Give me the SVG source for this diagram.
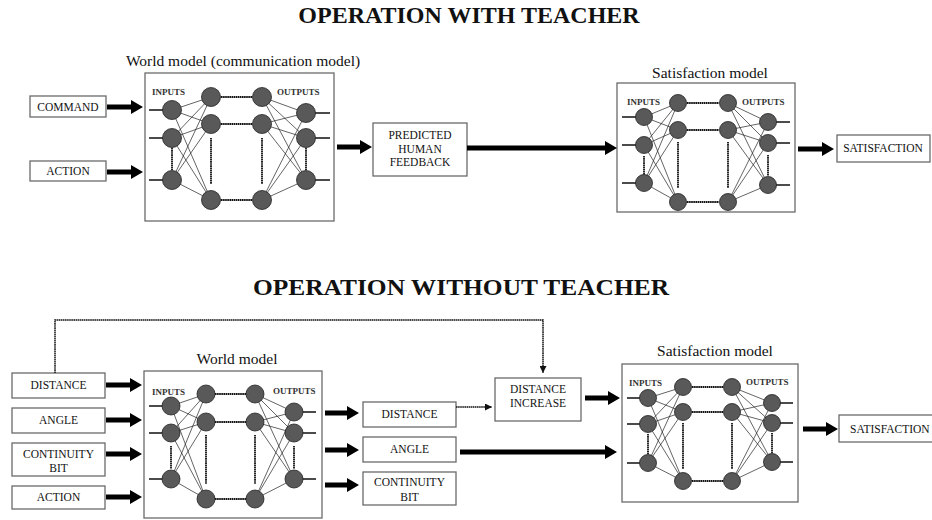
<svg xmlns="http://www.w3.org/2000/svg" width="932" height="520" viewBox="0 0 932 520">
<style>
text{font-family:"Liberation Serif","Times New Roman",serif;fill:#111}
.title{font-size:24px;font-weight:bold;text-anchor:middle}
.mt{font-size:15.5px;text-anchor:middle}
.bt{font-size:11.5px;text-anchor:middle}
.lb{font-size:9px;font-weight:bold;fill:#333}
.box{fill:#fff;stroke:#6a6a6a;stroke-width:1.3}
.node{fill:#595959;stroke:#222;stroke-width:0.8}
.conn{fill:none;stroke:#222;stroke-width:0.7}
.io{fill:none;stroke:#111;stroke-width:1.4}
.dash{fill:none;stroke:#111;stroke-width:1.8;stroke-dasharray:1.6 0.5}
.blk{fill:#000;stroke:none}
.dot{fill:none;stroke:#111;stroke-width:1.5;stroke-dasharray:1.6 0.5}
</style>
<defs>
<marker id="ah" viewBox="0 0 8 8" refX="8" refY="4" markerWidth="7" markerHeight="7" markerUnits="userSpaceOnUse" orient="auto"><path d="M0,0L8,4L0,8z" fill="#111"/></marker>
</defs>

<text class="title" x="469" y="23">OPERATION WITH TEACHER</text>
<text class="title" x="461" y="295" textLength="416" lengthAdjust="spacingAndGlyphs">OPERATION WITHOUT TEACHER</text>

<!-- TOP SECTION -->
<g id="command"><rect class="box" x="30" y="96" width="76" height="21"/><text class="bt" x="68" y="110.5">COMMAND</text></g>
<g id="action-top"><rect class="box" x="30" y="161" width="76" height="20"/><text class="bt" x="68" y="175">ACTION</text></g>

<g id="world-model-top">
<text class="mt" x="243" y="66">World model (communication model)</text>
<rect class="box" x="145" y="73" width="189" height="148"/>
<text class="lb" x="152" y="95">INPUTS</text>
<text class="lb" x="277" y="95">OUTPUTS</text>
<path class="conn" d="M172 110L211 97M172 110L211 124M172 110L211 200M172 138L211 97M172 138L211 124M172 138L211 200M172 180L211 97M172 180L211 124M172 180L211 200M262 97L306 113M262 97L306 138M262 97L306 180M262 124L306 113M262 124L306 138M262 124L306 180M262 200L306 113M262 200L306 138M262 200L306 180"/>
<path class="io" d="M149 110H172M149 138H172M149 180H172M306 113H330M306 138H330M306 180H330"/>
<path class="dash" d="M221 97H252M221 124H252M221 200H252M211 138V184M262 138V184M172 148V170M306 148V170"/>
<circle class="node" cx="172" cy="110" r="9.5"/><circle class="node" cx="172" cy="138" r="9.5"/><circle class="node" cx="172" cy="180" r="9.5"/>
<circle class="node" cx="211" cy="97" r="9.5"/><circle class="node" cx="211" cy="124" r="9.5"/><circle class="node" cx="211" cy="200" r="9.5"/>
<circle class="node" cx="262" cy="97" r="9.5"/><circle class="node" cx="262" cy="124" r="9.5"/><circle class="node" cx="262" cy="200" r="9.5"/>
<circle class="node" cx="306" cy="113" r="9.5"/><circle class="node" cx="306" cy="138" r="9.5"/><circle class="node" cx="306" cy="180" r="9.5"/>
</g>

<g id="predicted-feedback"><rect class="box" x="373" y="123" width="94" height="53"/>
<text class="bt" x="420" y="139">PREDICTED</text><text class="bt" x="420" y="152.5">HUMAN</text><text class="bt" x="420" y="166">FEEDBACK</text></g>

<g id="satisfaction-model-top">
<text class="mt" x="710" y="78">Satisfaction model</text>
<rect class="box" x="617" y="83" width="178" height="129"/>
<text class="lb" x="627" y="105">INPUTS</text>
<text class="lb" x="742" y="105">OUTPUTS</text>
<path class="conn" d="M644 117L678 103M644 117L678 130M644 117L678 202M644 145L678 103M644 145L678 130M644 145L678 202M644 183L678 103M644 183L678 130M644 183L678 202M728 103L768 122M728 103L768 143M728 103L768 185M728 130L768 122M728 130L768 143M728 130L768 185M728 202L768 122M728 202L768 143M728 202L768 185"/>
<path class="io" d="M622 117H644M622 145H644M622 183H644M768 122H790M768 143H790M768 185H790"/>
<path class="dash" d="M687 103H719M687 130H719M687 202H719M678 142V188M728 142V188M644 156V175M768 155V176"/>
<circle class="node" cx="644" cy="117" r="8.5"/><circle class="node" cx="644" cy="145" r="8.5"/><circle class="node" cx="644" cy="183" r="8.5"/>
<circle class="node" cx="678" cy="103" r="8.5"/><circle class="node" cx="678" cy="130" r="8.5"/><circle class="node" cx="678" cy="202" r="8.5"/>
<circle class="node" cx="728" cy="103" r="8.5"/><circle class="node" cx="728" cy="130" r="8.5"/><circle class="node" cx="728" cy="202" r="8.5"/>
<circle class="node" cx="768" cy="122" r="8.5"/><circle class="node" cx="768" cy="143" r="8.5"/><circle class="node" cx="768" cy="185" r="8.5"/>
</g>

<g id="satisfaction-top"><rect class="box" x="837" y="135" width="93" height="27"/><text class="bt" x="883" y="152">SATISFACTION</text></g>

<!-- BOTTOM SECTION -->
<g id="distance-in"><rect class="box" x="12" y="373" width="93" height="25"/><text class="bt" x="58.5" y="389">DISTANCE</text></g>
<g id="angle-in"><rect class="box" x="12" y="408" width="93" height="25"/><text class="bt" x="58.5" y="424">ANGLE</text></g>
<g id="continuity-in"><rect class="box" x="12" y="443" width="93" height="33"/><text class="bt" x="58.5" y="458">CONTINUITY</text><text class="bt" x="58.5" y="472">BIT</text></g>
<g id="action-in"><rect class="box" x="12" y="486" width="93" height="23"/><text class="bt" x="58.5" y="501">ACTION</text></g>

<g id="world-model-bottom">
<text class="mt" x="237" y="364">World model</text>
<rect class="box" x="144" y="371" width="178" height="147"/>
<text class="lb" x="152" y="395">INPUTS</text>
<text class="lb" x="273" y="394">OUTPUTS</text>
<path class="conn" d="M171 406L206 394M171 406L206 422M171 406L206 499M171 433L206 394M171 433L206 422M171 433L206 499M171 479L206 394M171 479L206 422M171 479L206 499M255 394L294 412M255 394L294 433M255 394L294 479M255 422L294 412M255 422L294 433M255 422L294 479M255 499L294 412M255 499L294 433M255 499L294 479"/>
<path class="io" d="M149 406H171M149 433H171M149 479H171M294 412H316M294 433H316M294 479H316"/>
<path class="dash" d="M215 394H246M215 422H246M215 499H246M206 435V484M255 435V484M171 446V469M294 446V469"/>
<circle class="node" cx="171" cy="406" r="9"/><circle class="node" cx="171" cy="433" r="9"/><circle class="node" cx="171" cy="479" r="9"/>
<circle class="node" cx="206" cy="394" r="9"/><circle class="node" cx="206" cy="422" r="9"/><circle class="node" cx="206" cy="499" r="9"/>
<circle class="node" cx="255" cy="394" r="9"/><circle class="node" cx="255" cy="422" r="9"/><circle class="node" cx="255" cy="499" r="9"/>
<circle class="node" cx="294" cy="412" r="9"/><circle class="node" cx="294" cy="433" r="9"/><circle class="node" cx="294" cy="479" r="9"/>
</g>

<g id="distance-out"><rect class="box" x="363" y="402" width="93" height="25"/><text class="bt" x="409.5" y="418">DISTANCE</text></g>
<g id="angle-out"><rect class="box" x="363" y="437" width="93" height="25"/><text class="bt" x="409.5" y="453">ANGLE</text></g>
<g id="continuity-out"><rect class="box" x="363" y="472" width="93" height="33"/><text class="bt" x="409.5" y="486">CONTINUITY</text><text class="bt" x="409.5" y="501">BIT</text></g>

<g id="distance-increase"><rect class="box" x="495" y="378" width="86" height="43"/><text class="bt" x="538" y="393">DISTANCE</text><text class="bt" x="538" y="407">INCREASE</text></g>

<g id="satisfaction-model-bottom">
<text class="mt" x="715" y="356">Satisfaction model</text>
<rect class="box" x="622" y="364" width="176" height="138"/>
<text class="lb" x="629" y="386">INPUTS</text>
<text class="lb" x="746" y="385">OUTPUTS</text>
<path class="conn" d="M648 398L683 387M648 398L683 412M648 398L683 481M648 424L683 387M648 424L683 412M648 424L683 481M648 463L683 387M648 463L683 412M648 463L683 481M732 387L772 403M732 387L772 423M732 387L772 462M732 412L772 403M732 412L772 423M732 412L772 462M732 481L772 403M732 481L772 423M732 481L772 462"/>
<path class="io" d="M627 398H648M627 424H648M627 463H648M772 403H793M772 423H793M772 462H793"/>
<path class="dash" d="M692 387H723M692 412H723M692 481H723M683 423V469M732 423V469M648 434V454M772 433V453"/>
<circle class="node" cx="648" cy="398" r="8.5"/><circle class="node" cx="648" cy="424" r="8.5"/><circle class="node" cx="648" cy="463" r="8.5"/>
<circle class="node" cx="683" cy="387" r="8.5"/><circle class="node" cx="683" cy="412" r="8.5"/><circle class="node" cx="683" cy="481" r="8.5"/>
<circle class="node" cx="732" cy="387" r="8.5"/><circle class="node" cx="732" cy="412" r="8.5"/><circle class="node" cx="732" cy="481" r="8.5"/>
<circle class="node" cx="772" cy="403" r="8.5"/><circle class="node" cx="772" cy="423" r="8.5"/><circle class="node" cx="772" cy="462" r="8.5"/>
</g>

<g id="satisfaction-bottom"><rect class="box" x="839" y="415" width="100" height="27"/><text class="bt" x="850" y="433" style="text-anchor:start">SATISFACTION</text></g>

<!-- CONNECTORS -->
<g id="connectors">
<polygon class="blk" points="107,104.5 131,104.5 131,100 143,107 131,114 131,109.5 107,109.5"/>
<polygon class="blk" points="107,169.5 131,169.5 131,165 143,172 131,179 131,174.5 107,174.5"/>
<polygon class="blk" points="337,144.5 360,144.5 360,140 372,147 360,154 360,149.5 337,149.5"/>
<polygon class="blk" points="467,145.5 605,145.5 605,141 617,148 605,155 605,150.5 467,150.5"/>
<polygon class="blk" points="798,146.5 822,146.5 822,142 834,149 822,156 822,151.5 798,151.5"/>
<polygon class="blk" points="106,382.5 130,382.5 130,378 142,385 130,392 130,387.5 106,387.5"/>
<polygon class="blk" points="106,417.5 130,417.5 130,413 142,420 130,427 130,422.5 106,422.5"/>
<polygon class="blk" points="106,451.5 130,451.5 130,447 142,454 130,461 130,456.5 106,456.5"/>
<polygon class="blk" points="106,494.5 130,494.5 130,490 142,497 130,504 130,499.5 106,499.5"/>
<polygon class="blk" points="325,410.5 347,410.5 347,406 359,413 347,420 347,415.5 325,415.5"/>
<polygon class="blk" points="325,447.5 347,447.5 347,443 359,450 347,457 347,452.5 325,452.5"/>
<polygon class="blk" points="325,482.5 347,482.5 347,478 359,485 347,492 347,487.5 325,487.5"/>
<polygon class="blk" points="585,395.5 608,395.5 608,391 620,398 608,405 608,400.5 585,400.5"/>
<polygon class="blk" points="460,449.5 605,449.5 605,445 617,452 605,459 605,454.5 460,454.5"/>
<polygon class="blk" points="803,426.5 826,426.5 826,422 838,429 826,436 826,431.5 803,431.5"/>
<path class="dot" d="M456 407H492" marker-end="url(#ah)"/>
<path class="dot" d="M55 373V320H543V373" marker-end="url(#ah)"/>
</g>
</svg>
